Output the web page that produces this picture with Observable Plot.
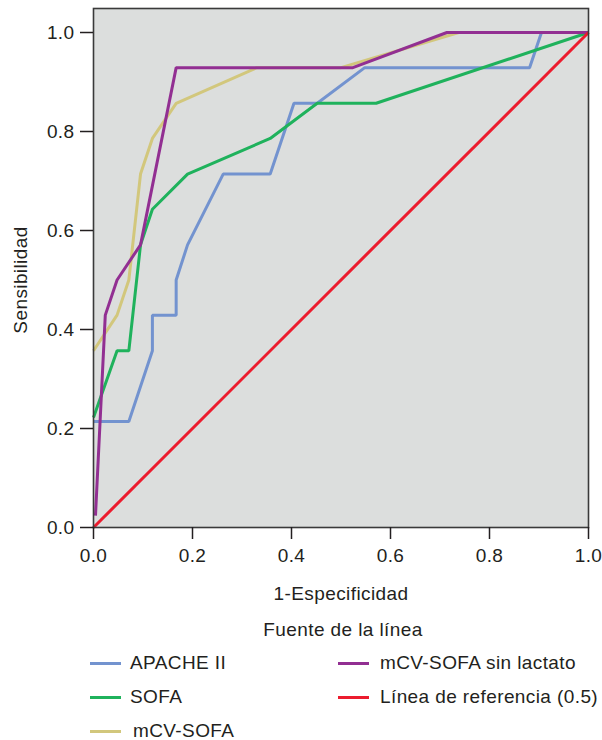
<!DOCTYPE html>
<html>
<head>
<meta charset="utf-8">
<script src="https://cdn.jsdelivr.net/npm/d3@7"></script>
<script src="https://cdn.jsdelivr.net/npm/@observablehq/plot@0.6"></script>
<style>
  html, body { margin: 0; padding: 0; background: #ffffff; }
  #wrap { position: relative; width: 602px; height: 740px; font-family: "Liberation Sans", Arial, sans-serif; color: #231f20; overflow: hidden; }
  #legend { position: absolute; left: 0; top: 610px; width: 602px; height: 130px; font-size: 19px; letter-spacing: 0.4px; }
  .lt { position: absolute; left: 0; width: 686px; text-align: center; line-height: 20px; }
  .item { position: absolute; height: 16px; line-height: 16px; white-space: nowrap; }
  .sw { position: absolute; top: 6.5px; width: 31px; height: 3px; }
  .lab { position: absolute; top: 0; }
</style>
</head>
<body>
<div id="wrap">
  <div id="chart"></div>
  <div id="legend"></div>
</div>
<script>
// ---- data ----
const seriesNames = ["APACHE II", "SOFA", "mCV-SOFA", "mCV-SOFA sin lactato", "Línea de referencia (0.5)"];
const seriesColors = ["#7393cf", "#1fb25c", "#d2c77c", "#922f92", "#ec1c2e"];

const apacheX = [0, 0.0714, 0.119, 0.119, 0.167, 0.167, 0.190, 0.262, 0.357, 0.405, 0.452, 0.548, 0.881, 0.905, 1.0];
const apacheY = [0.214, 0.214, 0.357, 0.429, 0.429, 0.5, 0.571, 0.714, 0.714, 0.857, 0.857, 0.929, 0.929, 1.0, 1.0];

const sofaX = [0, 0.0476, 0.0714, 0.095, 0.119, 0.190, 0.357, 0.452, 0.571, 1.0];
const sofaY = [0.222, 0.357, 0.357, 0.571, 0.643, 0.714, 0.786, 0.857, 0.857, 1.0];

const mcvX = [0, 0.0476, 0.0714, 0.095, 0.119, 0.167, 0.33, 0.5, 0.738, 1.0];
const mcvY = [0.357, 0.429, 0.5, 0.714, 0.786, 0.857, 0.929, 0.929, 1.0, 1.0];

const sinLacX = [0.004, 0.0238, 0.0476, 0.095, 0.167, 0.524, 0.714, 1.0];
const sinLacY = [0.024, 0.429, 0.5, 0.571, 0.929, 0.929, 1.0, 1.0];

const refX = [0, 1];
const refY = [0, 1];

const tickValues = [0, 0.2, 0.4, 0.6, 0.8, 1.0];
const xLabel = "1-Especificidad";
const yLabel = "Sensibilidad";
const legendTitle = "Fuente de la línea";

// ---- build table ----
const seriesXs = [apacheX, sofaX, mcvX, sinLacX, refX];
const seriesYs = [apacheY, sofaY, mcvY, sinLacY, refY];
const rows = [];
seriesNames.forEach((name, i) => {
  seriesXs[i].forEach((x, j) => rows.push({serie: name, x, y: seriesYs[i][j]}));
});

const font = "Liberation Sans, Arial, sans-serif";
const txt = "#231f20";

const chart = Plot.plot({
  width: 602,
  height: 610,
  marginLeft: 93,
  marginRight: 14,
  marginTop: 8,
  marginBottom: 83,
  style: {fontFamily: font, fontSize: "19px", color: txt, background: "#ffffff", letterSpacing: "0.4px"},
  x: {domain: [0, 1]},
  y: {domain: [0, 1.0485]},
  color: {domain: seriesNames, range: seriesColors},
  marks: [
    Plot.frame({fill: "#dcdedd", stroke: null}),
    ...seriesNames.map(name =>
      Plot.line(rows.filter(r => r.serie === name), {
        x: "x", y: "y", stroke: "serie", strokeWidth: 3,
        strokeLinejoin: "miter", strokeLinecap: "butt"
      })
    ),
    Plot.frame({stroke: "#3a3a3a", strokeWidth: 1.6}),
    Plot.axisX({ticks: tickValues, tickFormat: d => d.toFixed(1), tickSize: 12, tickPadding: 9,
      fontSize: 19, label: null, stroke: "#231f20", strokeWidth: 1.5, color: txt}),
    Plot.axisY({ticks: tickValues, tickFormat: d => d.toFixed(1), tickSize: 13, tickPadding: 6,
      fontSize: 19, label: null, stroke: "#231f20", strokeWidth: 1.5, color: txt}),
    Plot.text([0.5], {x: d => d, text: () => xLabel, frameAnchor: "bottom", dy: 66,
      textAnchor: "middle", lineAnchor: "middle", fontSize: 19, fill: txt}),
    Plot.text([0.5], {y: d => d, text: () => yLabel, frameAnchor: "left", dx: -73, rotate: -90,
      textAnchor: "middle", lineAnchor: "middle", fontSize: 19, fill: txt})
  ]
});
document.getElementById("chart").appendChild(chart);

// ---- legend (HTML below the SVG) ----
const legend = document.getElementById("legend");
const title = document.createElement("div");
title.className = "lt";
title.style.top = "10px";
title.textContent = legendTitle;
legend.appendChild(title);

const legendPos = [
  {left: 90, top: 45, labLeft: 40},
  {left: 90, top: 79, labLeft: 40},
  {left: 90, top: 113, labLeft: 43},
  {left: 338, top: 45, labLeft: 42},
  {left: 338, top: 79, labLeft: 42}
];
seriesNames.forEach((name, i) => {
  const p = legendPos[i];
  const item = document.createElement("div");
  item.className = "item";
  item.style.left = p.left + "px";
  item.style.top = p.top + "px";
  const sw = document.createElement("div");
  sw.className = "sw";
  sw.style.left = "0px";
  sw.style.background = seriesColors[i];
  const lab = document.createElement("div");
  lab.className = "lab";
  lab.style.left = p.labLeft + "px";
  lab.textContent = name;
  item.appendChild(sw);
  item.appendChild(lab);
  legend.appendChild(item);
});
</script>
</body>
</html>
